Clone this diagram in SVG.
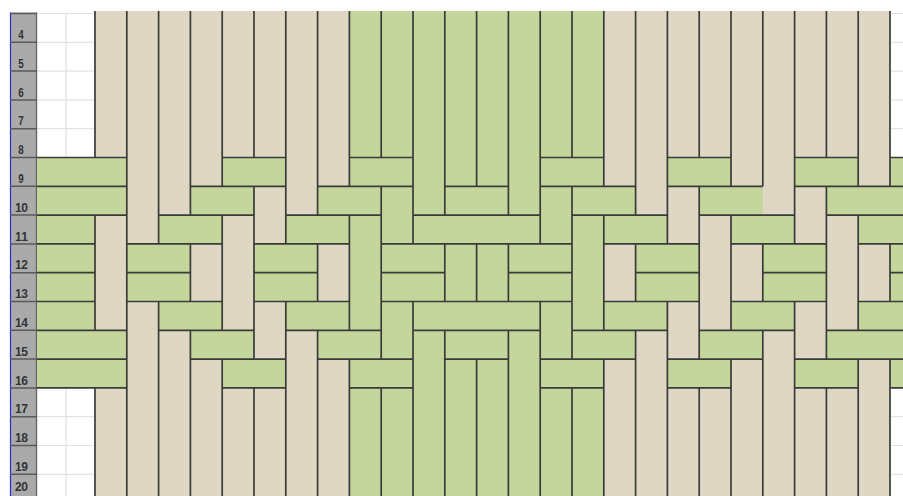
<svg xmlns="http://www.w3.org/2000/svg" width="903" height="496" viewBox="0 0 903 496">
<style>
.b{fill:#ddd7c4}
.g{fill:#c4d69b}
.wl{stroke:#3b3b38;stroke-width:1.7;fill:none}
.grid{stroke:#e2e2e2;stroke-width:1.2;fill:none}
.hl{stroke:#5a5a5a;stroke-width:1.5;fill:none}
.num{font-family:"Liberation Sans",Arial,sans-serif;font-weight:bold;font-size:12px;fill:#333;text-anchor:middle}
</style>
<defs>
<g id="row9">
<rect class="g" x="37" y="0" width="89.8" height="28.8"/>
<rect class="g" x="222.2" y="0" width="63.6" height="28.8"/>
<rect class="g" x="349.4" y="0" width="63.6" height="28.8"/>
<rect class="g" x="540.2" y="0" width="63.6" height="28.8"/>
<rect class="g" x="667.4" y="0" width="63.6" height="28.8"/>
<rect class="g" x="794.6" y="0" width="63.6" height="28.8"/>
<rect class="g" x="890" y="0" width="13" height="28.8"/>
</g>
<g id="row10">
<rect class="g" x="37" y="0" width="89.8" height="28.8"/>
<rect class="g" x="190.4" y="0" width="63.6" height="28.8"/>
<rect class="g" x="317.6" y="0" width="63.6" height="28.8"/>
<rect class="g" x="444.8" y="0" width="63.6" height="28.8"/>
<rect class="g" x="572" y="0" width="63.6" height="28.8"/>
<rect class="g" x="699.2" y="0" width="63.6" height="28.8"/>
<rect class="g" x="826.4" y="0" width="76.6" height="28.8"/>
</g>
<g id="row11">
<rect class="g" x="37" y="0" width="58" height="28.8"/>
<rect class="g" x="158.6" y="0" width="63.6" height="28.8"/>
<rect class="g" x="285.8" y="0" width="63.6" height="28.8"/>
<rect class="g" x="413" y="0" width="127.2" height="28.8"/>
<rect class="g" x="603.8" y="0" width="63.6" height="28.8"/>
<rect class="g" x="731" y="0" width="63.6" height="28.8"/>
<rect class="g" x="858.2" y="0" width="44.8" height="28.8"/>
</g>
<g id="row12">
<rect class="g" x="37" y="0" width="58" height="28.8"/>
<rect class="g" x="126.8" y="0" width="63.6" height="28.8"/>
<rect class="g" x="254" y="0" width="63.6" height="28.8"/>
<rect class="g" x="381.2" y="0" width="63.6" height="28.8"/>
<rect class="g" x="508.4" y="0" width="63.6" height="28.8"/>
<rect class="g" x="635.6" y="0" width="63.6" height="28.8"/>
<rect class="g" x="762.8" y="0" width="63.6" height="28.8"/>
<rect class="g" x="890" y="0" width="13" height="28.8"/>
</g>
</defs>
<rect x="0" y="0" width="903" height="496" fill="#ffffff"/>
<g id="sheet">
<path class="grid" d="M37 13.5H95M37 42.3H95M37 71.1H95M37 99.9H95M37 128.7H95M37 416.7H95M37 445.5H95M37 474.3H95M66 13.5V157.5M66 387.9V496M890 13.5H903M890 42.3H903M890 71.1H903M890 99.9H903M890 128.7H903M890 416.7H903M890 445.5H903M890 474.3H903"/>
</g>
<g id="header">
<rect x="10" y="12.5" width="26.5" height="483.5" fill="#aaaaaa"/>
<path d="M10.5 12.5V496" stroke="#2a2ad0" stroke-width="1.2"/>
<path d="M36.5 12.5V496" stroke="#666" stroke-width="1.4"/>
<path class="hl" d="M10 13.5H37M10 42.3H37M10 71.1H37M10 99.9H37M10 128.7H37M10 157.5H37M10 186.3H37M10 215.1H37M10 243.9H37M10 272.7H37M10 301.5H37M10 330.3H37M10 359.1H37M10 387.9H37M10 416.7H37M10 445.5H37M10 474.3H37"/>
<text class="num" x="21" y="39" textLength="5.5" lengthAdjust="spacingAndGlyphs">4</text>
<text class="num" x="21" y="67.8" textLength="5.5" lengthAdjust="spacingAndGlyphs">5</text>
<text class="num" x="21" y="96.6" textLength="5.5" lengthAdjust="spacingAndGlyphs">6</text>
<text class="num" x="21" y="125.4" textLength="5.5" lengthAdjust="spacingAndGlyphs">7</text>
<text class="num" x="21" y="154.2" textLength="5.5" lengthAdjust="spacingAndGlyphs">8</text>
<text class="num" x="21" y="183" textLength="5.5" lengthAdjust="spacingAndGlyphs">9</text>
<text class="num" x="21.5" y="211.8" textLength="13" lengthAdjust="spacing">10</text>
<text class="num" x="21.5" y="240.6" textLength="13" lengthAdjust="spacing">11</text>
<text class="num" x="21.5" y="269.4" textLength="13" lengthAdjust="spacing">12</text>
<text class="num" x="21.5" y="298.2" textLength="13" lengthAdjust="spacing">13</text>
<text class="num" x="21.5" y="327" textLength="13" lengthAdjust="spacing">14</text>
<text class="num" x="21.5" y="355.8" textLength="13" lengthAdjust="spacing">15</text>
<text class="num" x="21.5" y="384.6" textLength="13" lengthAdjust="spacing">16</text>
<text class="num" x="21.5" y="413.4" textLength="13" lengthAdjust="spacing">17</text>
<text class="num" x="21.5" y="442.2" textLength="13" lengthAdjust="spacing">18</text>
<text class="num" x="21.5" y="471" textLength="13" lengthAdjust="spacing">19</text>
<text class="num" x="21.5" y="491" textLength="13" lengthAdjust="spacing">20</text>
</g>
<g id="warps">
<rect class="b" x="95" y="11" width="254.4" height="485"/>
<rect class="g" x="349.4" y="11" width="254.4" height="485"/>
<rect class="b" x="603.8" y="11" width="286.2" height="485"/>
</g>
<g id="wefts">
<use href="#row9" transform="translate(0,157.5)"/>
<use href="#row10" transform="translate(0,186.3)"/>
<use href="#row11" transform="translate(0,215.1)"/>
<use href="#row12" transform="translate(0,243.9)"/>
<use href="#row12" transform="translate(0,272.7)"/>
<use href="#row11" transform="translate(0,301.5)"/>
<use href="#row10" transform="translate(0,330.3)"/>
<use href="#row9" transform="translate(0,359.1)"/>
</g>
<g id="connectors">
<path class="wl" d="
M95 11V157.5M95 215.1V330.3M95 387.9V496
M126.8 11V496
M158.6 11V243.9M158.6 301.5V496
M190.4 11V215.1M190.4 243.9V301.5M190.4 330.3V496
M222.2 11V186.3M222.2 215.1V330.3M222.2 359.1V496
M254 11V157.5M254 186.3V359.1M254 387.9V496
M285.8 11V243.9M285.8 301.5V496
M317.6 11V215.1M317.6 243.9V301.5M317.6 330.3V496
M349.4 11V186.3M349.4 215.1V330.3M349.4 359.1V496
M381.2 11V157.5M381.2 186.3V359.1M381.2 387.9V496
M413 11V243.9M413 301.5V496
M444.8 11V215.1M444.8 243.9V301.5M444.8 330.3V496
M476.6 11V186.3M476.6 243.9V301.5M476.6 359.1V496
M508.4 11V215.1M508.4 243.9V301.5M508.4 330.3V496
M540.2 11V243.9M540.2 301.5V496
M572 11V157.5M572 186.3V359.1M572 387.9V496
M603.8 11V186.3M603.8 215.1V330.3M603.8 359.1V496
M635.6 11V215.1M635.6 243.9V301.5M635.6 330.3V496
M667.4 11V243.9M667.4 301.5V496
M699.2 11V157.5M699.2 186.3V359.1M699.2 387.9V496
M731 11V186.3M731 215.1V330.3M731 359.1V496
M762.8 11V186.3M762.8 243.9V301.5M762.8 330.3V496
M794.6 11V243.9M794.6 301.5V496
M826.4 11V157.5M826.4 186.3V359.1M826.4 387.9V496
M858.2 11V186.3M858.2 215.1V330.3M858.2 359.1V496
M890 11V186.3M890 243.9V301.5M890 359.1V496"/>
<path class="wl" d="
M37 157.5H126.8M222.2 157.5H285.8M349.4 157.5H413M540.2 157.5H603.8M667.4 157.5H731M794.6 157.5H858.2M890 157.5H903
M37 387.9H126.8M222.2 387.9H285.8M349.4 387.9H413M540.2 387.9H603.8M667.4 387.9H731M794.6 387.9H858.2M890 387.9H903
M37 186.3H126.8M190.4 186.3H285.8M317.6 186.3H413M444.8 186.3H508.4M540.2 186.3H635.6M667.4 186.3H762.8M794.6 186.3H903
M37 359.1H126.8M190.4 359.1H285.8M317.6 359.1H413M444.8 359.1H508.4M540.2 359.1H635.6M667.4 359.1H762.8M794.6 359.1H903
M37 215.1H126.8M158.6 215.1H254M285.8 215.1H381.2M413 215.1H540.2M572 215.1H667.4M699.2 215.1H794.6M826.4 215.1H903
M37 330.3H126.8M158.6 330.3H254M285.8 330.3H381.2M413 330.3H540.2M572 330.3H667.4M699.2 330.3H794.6M826.4 330.3H903
M37 243.9H95M126.8 243.9H222.2M254 243.9H349.4M381.2 243.9H572M603.8 243.9H699.2M731 243.9H826.4M858.2 243.9H903
M37 301.5H95M126.8 301.5H222.2M254 301.5H349.4M381.2 301.5H572M603.8 301.5H699.2M731 301.5H826.4M858.2 301.5H903
M37 272.7H95M126.8 272.7H190.4M254 272.7H317.6M381.2 272.7H444.8M508.4 272.7H572M635.6 272.7H699.2M762.8 272.7H826.4M890 272.7H903"/>
</g>
</svg>
